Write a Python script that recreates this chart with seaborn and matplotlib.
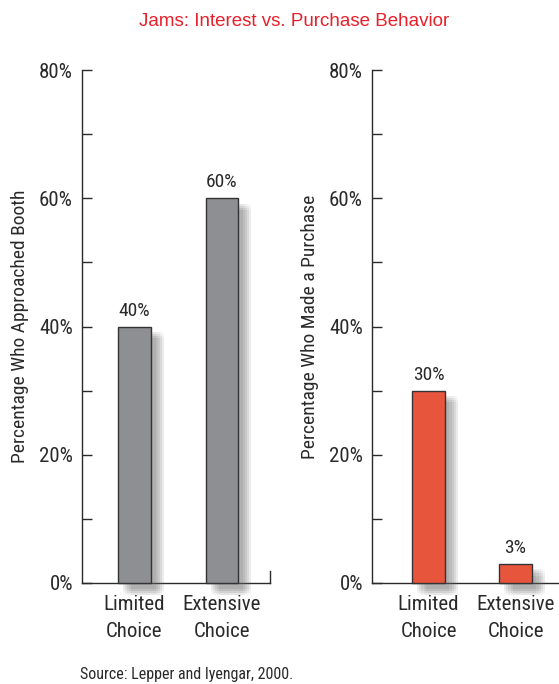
import matplotlib
matplotlib.use("Agg")
import matplotlib.pyplot as plt
import matplotlib.patheffects as pe
from matplotlib import font_manager as fm
import seaborn as sns
import pandas as pd

# data
categories = ["Limited\nChoice", "Extensive\nChoice"]
approached = [40, 60]
purchased = [30, 3]
y_ticks = [0, 20, 40, 60, 80]
y_minor = [10, 30, 50, 70]
title = "Jams: Interest vs. Purchase Behavior"
source = "Source: Lepper and Iyengar, 2000."

sns.set_style("ticks")

# condensed face like the original, first one that is installed
have = set(f.name for f in fm.fontManager.ttflist)
narrow = None
for cand in ['Roboto Condensed', 'Archivo Narrow', 'PT Sans Narrow', 'Liberation Sans Narrow',
             'Barlow Condensed', 'Fira Sans Condensed', 'Encode Sans Condensed',
             'Asap Condensed', 'IBM Plex Sans Condensed', 'Open Sans Condensed',
             'Sofia Sans Condensed', 'Saira Condensed', 'Oswald']:
    if cand in have:
        narrow = cand
        break
if narrow is None:
    narrow = 'DejaVu Sans'
plt.rcParams['font.family'] = [narrow, 'DejaVu Sans']
ink = '#2a2a2a'

fig = plt.figure(figsize=(5.59, 6.84), dpi=100)
W, H = 559, 684
ax1 = fig.add_axes([82 / W, (H - 583) / H, 188 / W, 513 / H])
ax2 = fig.add_axes([372 / W, (H - 583) / H, 187 / W, 513 / H])

# soft drop shadow built from a stack of faint offset copies
shadow = []
for dx in (3.5, 5, 6.5, 8, 9.5):
    for dy in (4, 5.5, 7, 8.5):
        shadow.append(pe.SimplePatchShadow(offset=(dx, -dy), shadow_rgbFace='0.45', alpha=0.035))
shadow.append(pe.Normal())


def panel(ax, vals, color, ylabel, xlim, right_tick):
    df = pd.DataFrame({'cat': categories, 'val': vals})
    sns.barplot(data=df, x='cat', y='val', ax=ax, color=color, width=0.37,
                edgecolor='#333333', linewidth=1.0, saturation=1)
    for p in ax.patches:
        p.set_path_effects(shadow)
        p.set_clip_on(False)
        p.set_zorder(3)
    ax.bar_label(ax.containers[0], labels=[f"{v}%" for v in vals], padding=5,
                 fontsize=14, color=ink)
    ax.set_ylim(0, 80)
    ax.set_xlim(*xlim)
    ax.set_yticks(y_ticks)
    ax.set_yticklabels([f"{t}%" for t in y_ticks])
    ax.set_yticks(y_minor, minor=True)
    ax.tick_params(axis='y', which='both', direction='in', length=7, width=1,
                   color=ink, pad=6.5, labelsize=15, labelcolor=ink)
    ax.tick_params(axis='x', length=0, pad=9, labelsize=15, labelcolor=ink)
    for lab in ax.get_xticklabels():
        lab.set_linespacing(1.5)
    ax.set_xlabel("")
    ax.set_ylabel(ylabel, fontsize=14, color=ink, labelpad=7)
    ax.spines['top'].set_visible(False)
    ax.spines['left'].set_bounds(0, 80)
    if right_tick:
        ax.spines['right'].set_bounds(0, 1.8)
    else:
        ax.spines['right'].set_visible(False)
    for s in ax.spines.values():
        s.set_color(ink)
        s.set_linewidth(1)


panel(ax1, approached, '#8e8f93', "Percentage Who Approached Booth", (-0.6, 1.55), True)
panel(ax2, purchased, '#e8553d', "Percentage Who Made a Purchase", (-0.65, 1.5), False)

fig.text(294 / W, 1 - 22 / H, title, ha='center', va='center', fontsize=13.5,
         color='#e8202a', family=['Liberation Sans', 'DejaVu Sans'])
fig.text(80 / W, 1 - 675 / H, source, ha='left', va='center', fontsize=11.5, color=ink)

fig.savefig("out.png", dpi=100)
